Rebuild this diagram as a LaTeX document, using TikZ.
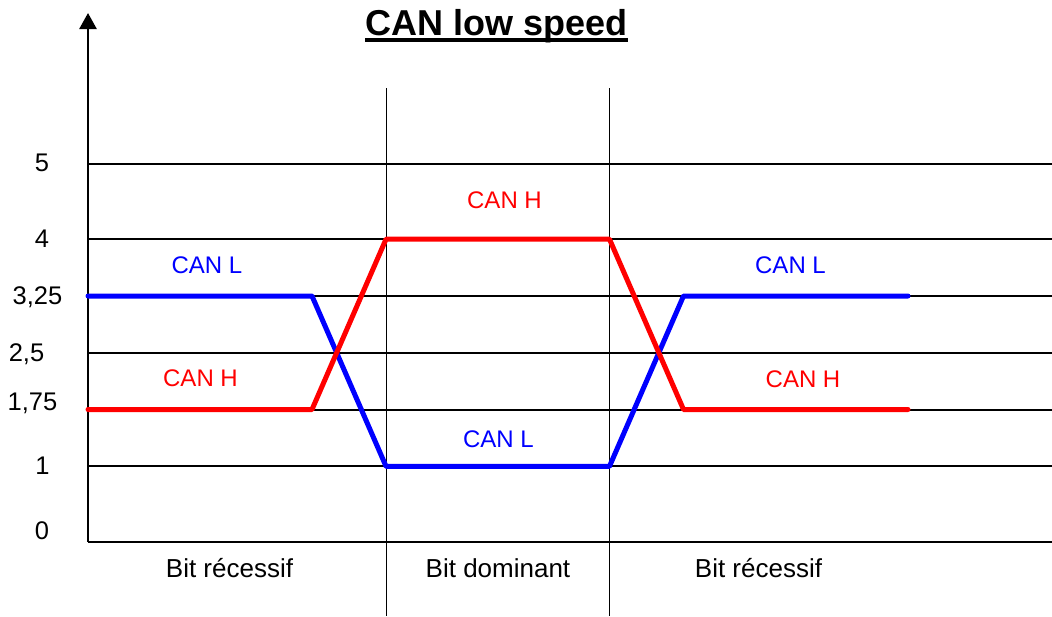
\documentclass[tikz,border=0pt]{standalone}
\usepackage{fontspec}
\setmainfont{Liberation Sans}
\usetikzlibrary{arrows.meta}
\definecolor{sigred}{RGB}{255,0,0}
\definecolor{sigblue}{RGB}{0,0,255}
\begin{document}
\begin{tikzpicture}[x=1pt,y=-1pt,
  lbl/.style={font=\fontsize{24}{28}\selectfont, anchor=base, inner sep=0pt},
  vlbl/.style={font=\fontsize{25.5}{28}\selectfont, anchor=base, inner sep=0pt},
  blbl/.style={font=\fontsize{26}{30}\selectfont, anchor=base, inner sep=0pt},
  gridline/.style={line width=2pt, black},
  axisline/.style={line width=2.6pt, black},
  sepline/.style={line width=1pt, black},
  sig/.style={line width=5pt, line cap=round, line join=round}]
\useasboundingbox (0,0) rectangle (1052,616);

% axes
\coordinate (O) at (88,542);
\coordinate (Ytop) at (88,13);
\coordinate (Xend) at (1052,542);
\draw[axisline, -{Triangle[width=17pt,length=16pt]}] (O) -- (Ytop);
\draw[axisline] (O) -- (Xend);

% grid levels
\foreach \n/\y in {g5/163.5, g4/239.2, g325/296, g25/352.75, g175/409.5, g1/466.3}{
  \coordinate (\n L) at (88,\y);
  \coordinate (\n R) at (1052,\y);
  \draw[gridline] (\n L) -- (\n R);
}

% bit separators
\coordinate (s1t) at (386,88);   \coordinate (s1b) at (386,616);
\coordinate (s2t) at (609.5,88); \coordinate (s2b) at (609.5,616);
\draw[sepline] (s1t) -- (s1b);
\draw[sepline] (s2t) -- (s2b);

% signals
\coordinate (L0) at (88,296);   \coordinate (L1) at (312,296);
\coordinate (L2) at (386,466.3); \coordinate (L3) at (609.5,466.3);
\coordinate (L4) at (683.5,296); \coordinate (L5) at (908,296);
\coordinate (H0) at (88,409.5); \coordinate (H1) at (312,409.5);
\coordinate (H2) at (386,239.2); \coordinate (H3) at (609.5,239.2);
\coordinate (H4) at (683.5,409.5); \coordinate (H5) at (908,409.5);
\draw[sig, sigblue] (L0) -- (L1) -- (L2) -- (L3) -- (L4) -- (L5);
\draw[sig, sigred] (H0) -- (H1) -- (H2) -- (H3) -- (H4) -- (H5);

% title
\node[anchor=base, inner sep=0pt, font=\bfseries\fontsize{36}{40}\selectfont] (title) at (496.5,35) {CAN low speed};
\draw[line width=4pt] ([yshift=-5pt]title.base west) -- ([yshift=-5pt]title.base east);

% value labels
\node[vlbl] (v5) at (42,171) {5};
\node[vlbl] (v4) at (42,247) {4};
\node[vlbl] (v325) at (37.5,304) {3,25};
\node[vlbl] (v25) at (26.5,361) {2,5};
\node[vlbl] (v175) at (32.5,410) {1,75};
\node[vlbl] (v1) at (42.5,474) {1};
\node[vlbl] (v0) at (42,539) {0};

% signal labels
\node[lbl, text=sigblue] (cl1) at (207,273) {CAN L};
\node[lbl, text=sigred]  (ch1) at (200.5,386) {CAN H};
\node[lbl, text=sigred]  (ch2) at (504.5,208) {CAN H};
\node[lbl, text=sigblue] (cl2) at (498.5,447) {CAN L};
\node[lbl, text=sigblue] (cl3) at (790.5,273) {CAN L};
\node[lbl, text=sigred]  (ch3) at (803,387) {CAN H};

% bit labels
\node[blbl] (b1) at (229.5,577) {Bit récessif};
\node[blbl] (b2) at (498,577) {Bit dominant};
\node[blbl] (b3) at (758.5,577) {Bit récessif};
\end{tikzpicture}
\end{document}
